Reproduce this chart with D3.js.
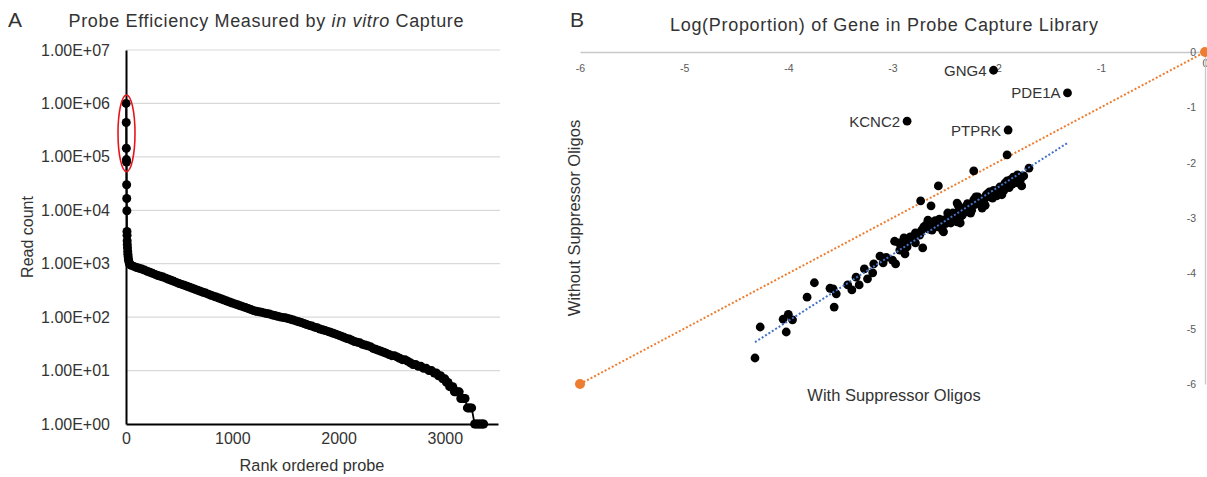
<!DOCTYPE html>
<html>
<head>
<meta charset="utf-8">
<script src="https://cdn.jsdelivr.net/npm/d3@7"></script>
<style>
  html, body { margin: 0; padding: 0; background: #fff; }
  svg { display: block; font-family: "Liberation Sans", Arial, sans-serif; }
</style>
</head>
<body>
<svg id="chart" width="1207" height="477"></svg>
<script>
// ---------- Panel A: read counts of rank-ordered probes ----------
const probeRank = [
  1, 2, 3, 4, 5, 6, 7, 8, 9, 10, 11, 12, 14, 16, 18, 20, 23, 27, 32, 40,
  50, 75, 100, 125, 150, 175, 200, 225, 250, 275, 300, 325, 350, 375, 400, 425, 450, 475, 500,
  525, 550, 575, 600, 625, 650, 675, 700, 725, 750, 775, 800, 825, 850, 875, 900, 925, 950, 975, 1000,
  1025, 1050, 1075, 1100, 1125, 1150, 1175, 1200, 1225, 1250, 1275, 1300, 1325, 1350, 1375, 1400,
  1425, 1450, 1475, 1500, 1525, 1550, 1575, 1600, 1625, 1650, 1675, 1700, 1725, 1750, 1775, 1800,
  1825, 1850, 1875, 1900, 1925, 1950, 1975, 2000, 2025, 2050, 2075, 2100, 2125, 2150, 2175, 2200,
  2225, 2250, 2275, 2300, 2325, 2350, 2375, 2400, 2425, 2450, 2475, 2500, 2525, 2550, 2575, 2600,
  2625, 2650, 2675, 2700, 2725, 2750, 2775, 2800, 2825, 2850, 2875, 2900, 2920, 2940, 2960, 2980, 3000,
  3015, 3030, 3045, 3060, 3075, 3090, 3105, 3120, 3135, 3150, 3163, 3176, 3190,
  3212, 3225, 3238, 3252, 3280, 3295, 3310, 3325, 3340, 3355, 3365
];
const readCount = [
  1000000, 440000, 145000, 89000, 80000, 30000, 16600, 9800, 4000, 3400, 2700, 2300, 2000, 1700, 1500, 1350, 1200, 1100, 1000, 960,
  933, 891, 851, 822, 794, 759, 724, 692, 661, 631, 603, 582, 562, 537, 513, 490, 468, 447, 427,
  410, 394, 378, 363, 347, 331, 318, 305, 293, 282, 269, 257, 247, 237, 228, 219, 209, 200, 192, 184,
  177, 170, 163, 157, 151, 145, 139, 133, 129, 126, 123, 120, 117, 114, 110, 107,
  104, 101, 99, 97, 94, 91, 88, 85, 82, 79, 76, 73, 70, 68, 65, 63,
  60, 58, 56, 54, 52, 50, 48, 46, 44, 42, 40, 39, 37, 35, 34, 33,
  31, 30, 29, 28, 26, 25, 24, 23, 22, 21, 20, 19, 19, 18, 17, 16,
  16, 15, 14, 13, 13, 12, 12, 11, 11, 10, 10, 9, 9, 8, 8, 7, 7,
  6, 6, 5, 5, 5, 4, 4, 4, 4, 3, 3, 3, 3,
  2, 2, 2, 2, 1, 1, 1, 1, 1, 1, 1
];
const rankTicks = [0, 1000, 2000, 3000];
const countTicks = [1, 10, 100, 1000, 10000, 100000, 1000000, 10000000];
// probes singled out by the red outline (count range)
const highlightCounts = [53000, 1440000];

// ---------- Panel B: log proportion of each gene ----------
const withOligos = [
  -4.32, -4.27, -4.05, -4.00, -3.96, -4.02, -3.82, -3.75, -3.60, -3.57, -3.54, -3.56, -3.43, -3.39, -3.35,
  -3.32, -3.27, -3.24, -3.19, -3.18, -3.12, -3.09, -3.06, -3.00, -2.97, -2.98, -2.93, -2.89, -2.86, -2.81,
  -2.78, -2.75, -2.88, -2.71,
  -2.94, -2.89, -2.83, -2.78, -2.70, -2.68, -2.66, -2.66, -2.62, -2.61, -2.59, -2.56, -2.52, -2.52, -2.51,
  -2.47, -2.47, -2.44, -2.44, -2.42, -2.38, -2.38, -2.37, -2.35, -2.35, -2.32, -2.30, -2.30, -2.27, -2.25,
  -2.25, -2.22, -2.20, -2.19, -2.18, -2.16, -2.14, -2.11, -2.11, -2.08, -2.07, -2.04, -2.01, -1.98, -1.98,
  -1.95, -1.95, -1.92, -1.92, -1.89, -1.87, -1.85, -1.84, -1.82, -1.80, -1.79, -1.77, -1.76, -1.85,
  -2.90, -2.85, -2.80, -2.74, -2.72, -2.65, -2.58, -2.55, -2.49, -2.45, -2.40, -2.36, -2.33, -2.28, -2.24,
  -2.21, -2.17, -2.13, -2.10, -2.06, -2.03, -2.00, -1.97, -1.93, -1.90, -1.88, -1.83, -1.81, -1.78, -1.74,
  -2.73, -2.63, -2.56, -2.22, -1.90, -1.69
];
const withoutOligos = [
  -5.53, -4.97, -4.83, -4.74, -4.84, -5.06, -4.43, -4.17, -4.27, -4.28, -4.37, -4.61, -4.21, -4.30, -4.07,
  -4.21, -3.92, -4.10, -3.99, -3.83, -3.69, -3.81, -3.71, -3.76, -3.83, -3.42, -3.58, -3.36, -3.52, -3.34,
  -3.45, -3.29, -3.65, -3.54,
  -3.45, -3.40, -3.34, -3.27, -3.16, -3.13, -3.04, -3.13, -3.22, -3.07, -3.05, -3.16, -3.22, -3.04, -3.25,
  -2.91, -2.98, -3.04, -3.09, -2.91, -2.73, -3.07, -2.77, -3.09, -2.98, -2.89, -2.80, -2.89, -2.82, -2.80,
  -2.91, -2.67, -2.62, -2.73, -2.62, -2.71, -2.82, -2.64, -2.77, -2.55, -2.53, -2.64, -2.55, -2.55, -2.49,
  -2.44, -2.58, -2.37, -2.44, -2.40, -2.31, -2.35, -2.26, -2.26, -2.22, -2.31, -2.30, -2.42, -2.39,
  -3.50, -3.42, -3.38, -3.31, -3.22, -3.20, -3.10, -3.02, -3.10, -2.95, -2.98, -2.86, -2.95, -2.74, -2.86,
  -2.76, -2.66, -2.70, -2.58, -2.62, -2.50, -2.60, -2.44, -2.50, -2.33, -2.45, -2.30, -2.36, -2.25, -2.24,
  -2.69, -2.78, -2.42, -2.15, -1.86, -2.10
];
const geneNames = ["GNG4", "PDE1A", "KCNC2", "PTPRK"];
const geneWith = [-2.03, -1.32, -2.86, -1.89];
const geneWithout = [-0.33, -0.74, -1.25, -1.41];
const logTicks = [-6, -5, -4, -3, -2, -1, 0];
// linear trend of "without" on "with"
const trendSlope = 1.2;
const trendIntercept = -0.06;
// equal-proportion reference line
const identityEnds = [-6, 0];

const svg = d3.select("#chart");
const textColor = "#333";

// ================= Panel A =================
const xA = d3.scaleLinear().domain([0, 3500]).range([126, 498]);
const yA = d3.scaleLog().domain([1, 1e7]).range([424, 50]);
const gA = svg.append("g");

// horizontal gridlines
gA.append("g").selectAll("line")
  .data(countTicks.slice(1))
  .join("line")
  .attr("x1", xA(0)).attr("x2", 500)
  .attr("y1", d => yA(d)).attr("y2", d => yA(d))
  .attr("stroke", "#d9d9d9").attr("stroke-width", 1.2);

const sciFormat = v => {
  const [m, e] = v.toExponential(2).split("e");
  return m + "E" + e[0] + e.slice(1).padStart(2, "0");
};

const yAxisA = gA.append("g")
  .attr("transform", `translate(${xA(0)},0)`)
  .call(d3.axisLeft(yA).tickValues(countTicks).tickFormat(sciFormat).tickSize(0).tickPadding(16));
const xAxisA = gA.append("g")
  .attr("transform", `translate(0,${yA(1)})`)
  .call(d3.axisBottom(xA).tickValues(rankTicks).tickFormat(d3.format("d")).tickSize(0).tickPadding(9));
[yAxisA, xAxisA].forEach(ax => {
  ax.select(".domain").attr("stroke", "#000").attr("stroke-width", 2);
  ax.selectAll("text").attr("font-size", 16).attr("fill", textColor)
    .attr("font-family", "'Liberation Sans', Arial, sans-serif");
});

// probe curve
const probeData = probeRank.map((r, i) => [r, readCount[i]]);
gA.append("path")
  .datum(probeData)
  .attr("fill", "none").attr("stroke", "#000").attr("stroke-width", 1.8)
  .attr("d", d3.line().x(d => xA(d[0])).y(d => yA(d[1])));
gA.append("g").selectAll("circle")
  .data(probeData)
  .join("circle")
  .attr("cx", d => xA(d[0])).attr("cy", d => yA(d[1]))
  .attr("r", 4.5).attr("fill", "#000");

// red outline around the top probes
gA.append("ellipse")
  .attr("cx", xA(0) + 0.5)
  .attr("cy", (yA(highlightCounts[0]) + yA(highlightCounts[1])) / 2)
  .attr("rx", 8.5)
  .attr("ry", (yA(highlightCounts[0]) - yA(highlightCounts[1])) / 2)
  .attr("fill", "none").attr("stroke", "#e8141b").attr("stroke-width", 1.6);

// titles and axis names
gA.append("text").attr("x", 8).attr("y", 27).attr("font-size", 21).attr("fill", textColor).text("A");
const titleA = gA.append("text").attr("x", 266).attr("y", 27).attr("text-anchor", "middle")
  .attr("font-size", 18).attr("fill", textColor)
  .attr("textLength", 395).attr("lengthAdjust", "spacing");
titleA.append("tspan").text("Probe Efficiency Measured by ");
titleA.append("tspan").attr("font-style", "italic").text("in vitro");
titleA.append("tspan").text(" Capture");
gA.append("text").attr("transform", `translate(33,237) rotate(-90)`).attr("text-anchor", "middle")
  .attr("font-size", 16).attr("fill", textColor).text("Read count");
gA.append("text").attr("x", 312).attr("y", 471).attr("text-anchor", "middle")
  .attr("font-size", 16.3).attr("fill", textColor).text("Rank ordered probe");

// ================= Panel B =================
const xB = d3.scaleLinear().domain([-6, 0]).range([580, 1205]);
const yB = d3.scaleLinear().domain([-6, 0]).range([384, 52]);
const gB = svg.append("g");

const xAxisB = gB.append("g")
  .attr("transform", `translate(0,${yB(0)})`)
  .call(d3.axisBottom(xB).tickValues(logTicks).tickFormat(d => String(d)).tickSize(0).tickPadding(13));
const yAxisB = gB.append("g")
  .attr("transform", `translate(${xB(0)},0)`)
  .call(d3.axisLeft(yB).tickValues(logTicks).tickFormat(d => String(d)).tickSize(0).tickPadding(9));
[xAxisB, yAxisB].forEach(ax => {
  ax.select(".domain").attr("stroke", "#c8c8c8").attr("stroke-width", 1.3);
  ax.selectAll("text").attr("font-size", 10.5).attr("fill", "#595959")
    .attr("font-family", "'Liberation Sans', Arial, sans-serif");
});
xAxisB.selectAll(".tick").filter(d => d === 0).select("text").attr("dy", "0.2em");

// equal-proportion reference line
gB.append("line")
  .attr("x1", xB(identityEnds[0])).attr("y1", yB(identityEnds[0]))
  .attr("x2", xB(identityEnds[1])).attr("y2", yB(identityEnds[1]))
  .attr("stroke", "#ed7d31").attr("stroke-width", 2).attr("stroke-dasharray", "2 2");
gB.append("g").selectAll("circle")
  .data(identityEnds)
  .join("circle")
  .attr("cx", d => xB(d)).attr("cy", d => yB(d))
  .attr("r", 5).attr("fill", "#ed7d31");

// gene points
const genePoints = withOligos.map((x, i) => [x, withoutOligos[i]])
  .concat(geneWith.map((x, i) => [x, geneWithout[i]]));
gB.append("g").selectAll("circle")
  .data(genePoints)
  .join("circle")
  .attr("cx", d => xB(d[0])).attr("cy", d => yB(d[1]))
  .attr("r", 4.4).attr("fill", "#000");

// linear trend over the range of the data
const xExtent = d3.extent(genePoints, d => d[0]);
gB.append("line")
  .attr("x1", xB(xExtent[0])).attr("y1", yB(trendSlope * xExtent[0] + trendIntercept))
  .attr("x2", xB(xExtent[1])).attr("y2", yB(trendSlope * xExtent[1] + trendIntercept))
  .attr("stroke", "#4472c4").attr("stroke-width", 2).attr("stroke-dasharray", "2 2");

// gene name labels
gB.append("g").selectAll("text")
  .data(geneNames)
  .join("text")
  .attr("x", (d, i) => xB(geneWith[i]) - 7)
  .attr("y", (d, i) => yB(geneWithout[i]) + 5.5)
  .attr("text-anchor", "end").attr("font-size", 15).attr("fill", textColor)
  .text(d => d);

// titles and axis names
gB.append("text").attr("x", 570).attr("y", 27).attr("font-size", 21).attr("fill", textColor).text("B");
gB.append("text").attr("x", 884).attr("y", 31).attr("text-anchor", "middle")
  .attr("font-size", 18).attr("fill", textColor)
  .attr("textLength", 428).attr("lengthAdjust", "spacing")
  .text("Log(Proportion) of Gene in Probe Capture Library");
gB.append("text").attr("transform", `translate(580,218) rotate(-90)`).attr("text-anchor", "middle")
  .attr("font-size", 16.5).attr("fill", textColor).text("Without Suppressor Oligos");
gB.append("text").attr("x", 894).attr("y", 401).attr("text-anchor", "middle")
  .attr("font-size", 16.5).attr("fill", textColor).text("With Suppressor Oligos");
</script>
</body>
</html>
